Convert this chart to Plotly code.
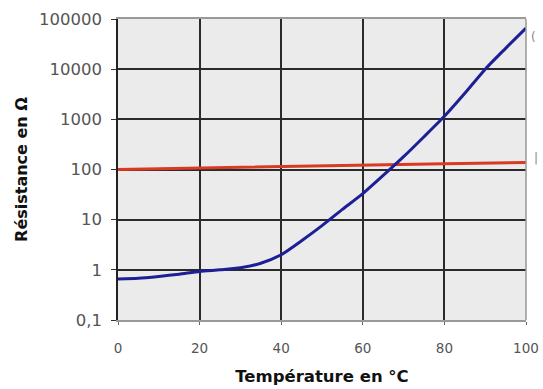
import plotly.graph_objects as go

# Data
temp_ctp = [0, 5, 10, 15, 20, 25, 30, 35, 40, 45, 50, 55, 60, 65, 70, 75, 80, 85, 90, 95, 100]
r_ctp = [0.66, 0.68, 0.74, 0.82, 0.93, 1.0, 1.1, 1.35, 2.0, 3.8, 7.6, 16, 33, 76, 180, 450, 1150, 3300, 10000, 26000, 66000]
temp_pt = [0, 20, 40, 60, 80, 100]
r_pt = [100, 107.8, 115.5, 123.2, 130.9, 138.5]

y_tickvals = [0.1, 1, 10, 100, 1000, 10000, 100000]
y_ticktext = ["0,1", "1", "10", "100", "1000", "10000", "100000"]
x_tickvals = [0, 20, 40, 60, 80, 100]

fig = go.Figure()
fig.add_trace(go.Scatter(x=temp_pt, y=r_pt, mode="lines", name="Pt100",
                         line=dict(color="#d93a22", width=3)))
fig.add_trace(go.Scatter(x=temp_ctp, y=r_ctp, mode="lines", name="CTP",
                         line=dict(color="#1c1f96", width=3, shape="spline", smoothing=0.6)))

W, H = 543, 389
L, R, T, B = 118, 17, 19, 69

fig.update_layout(
    width=W, height=H,
    margin=dict(l=L, r=R, t=T, b=B, autoexpand=False),
    paper_bgcolor="white",
    plot_bgcolor="#ebebeb",
    showlegend=False,
    font=dict(family="DejaVu Sans", color="#333"),
    xaxis=dict(
        range=[0, 100], tickvals=x_tickvals, ticks="outside", ticklen=3,
        tickcolor="#666", showgrid=True, gridcolor="#2a2a2a", gridwidth=1.5,
        zeroline=False, showline=True, linecolor="#999", linewidth=1.5, mirror=True,
        automargin=False, ticklabelstandoff=12,
        tickfont=dict(size=13.5, color="#555"),
        title=dict(text="<b>Température en °C</b>", font=dict(size=16.5, color="#111"), standoff=15),
    ),
    yaxis=dict(
        type="log", range=[-1, 5], tickvals=y_tickvals, ticktext=y_ticktext,
        ticks="outside", ticklen=5, tickcolor="#333",
        showgrid=True, gridcolor="#2a2a2a", gridwidth=1.5,
        zeroline=False, showline=True, linecolor="#222", linewidth=1.6,
        automargin=False, ticklabelstandoff=6,
        tickfont=dict(size=16.5, color="#555"),
        title=dict(text="<b>Résistance en Ω</b>", font=dict(size=16, color="#111"), standoff=7),
    ),
    annotations=[
        dict(text="(", x=1.008, y=0.97, xref="paper", yref="paper", showarrow=False,
             xanchor="left", font=dict(size=12, color="#888")),
        dict(text="|", x=1.015, y=0.538, xref="paper", yref="paper", showarrow=False,
             xanchor="left", font=dict(size=12, color="#888")),
    ],
    shapes=[dict(type="line", xref="paper", yref="paper", x0=1, x1=1, y0=0, y1=1,
                 line=dict(color="#999", width=1.5))],
)

fig.write_html("out.html", config={"displayModeBar": False},
               post_script="document.body.style.margin='0';")
